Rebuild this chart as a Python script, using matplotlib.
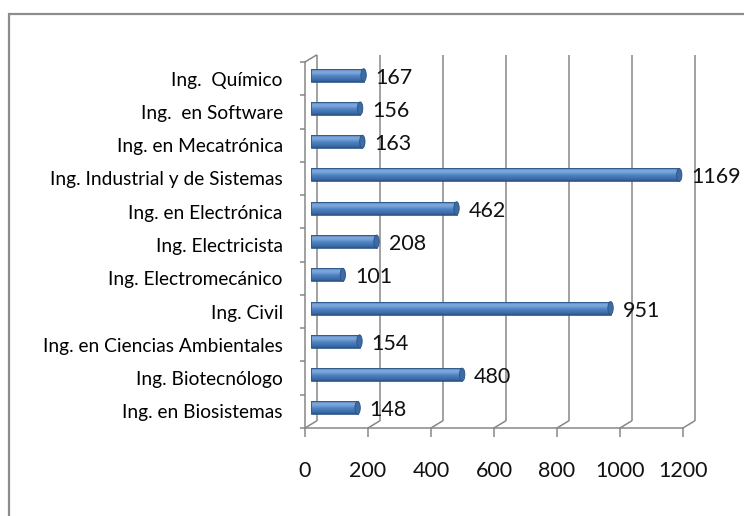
import matplotlib
matplotlib.use("Agg")
import matplotlib.pyplot as plt
import matplotlib.transforms as mtransforms
from matplotlib.patches import Rectangle, Ellipse, ConnectionPatch
from matplotlib.colors import LinearSegmentedColormap
import numpy as np

categories = [
    "Ing. en Biosistemas",
    "Ing. Biotecnólogo",
    "Ing. en Ciencias Ambientales",
    "Ing. Civil",
    "Ing. Electromecánico",
    "Ing. Electricista",
    "Ing. en Electrónica",
    "Ing. Industrial y de Sistemas",
    "Ing. en Mecatrónica",
    "Ing.  en Software",
    "Ing.  Químico",
]
values = [148, 480, 154, 951, 101, 208, 462, 1169, 163, 156, 167]
x_ticks = [0, 200, 400, 600, 800, 1000, 1200]

plt.rcParams["font.family"] = ["Lato", "DejaVu Sans"]

W, H = 744, 516
DPI = 100
fig = plt.figure(figsize=(W / DPI, H / DPI), dpi=DPI)
fig.patch.set_facecolor("white")


def px_box(x0, y0, x1, y1):
    return [x0 / W, 1 - y1 / H, (x1 - x0) / W, (y1 - y0) / H]


GRID = "#878787"

# chart frame
frame = Rectangle((9 / W, -0.5), 2.0, (1 - 14 / H) + 0.5, transform=fig.transFigure,
                  fill=False, edgecolor="#8c8c8c", linewidth=1.6)
fig.patches.append(frame)

ax = fig.add_axes(px_box(305, 62, 683, 428))
n = len(categories)
ax.set_xlim(0, 1200)
ax.set_ylim(-0.5, n - 0.5)
ax.set_facecolor("none")

# depth offsets (back wall and mid plane of the bars)
back_tr = ax.transData + mtransforms.ScaledTranslation(11.5 / DPI, 7 / DPI, fig.dpi_scale_trans)
mid_tr = ax.transData + mtransforms.ScaledTranslation(6 / DPI, 3.5 / DPI, fig.dpi_scale_trans)

# front spines & ticks
for s in ["top", "right"]:
    ax.spines[s].set_visible(False)
for s in ["left", "bottom"]:
    ax.spines[s].set_color(GRID)
    ax.spines[s].set_linewidth(1.1)

ax.set_xticks(x_ticks)
ax.set_xticklabels([str(t) for t in x_ticks])
ax.tick_params(axis="x", direction="out", length=6.5, width=1.1, color=GRID,
               labelsize=15.5, pad=17, labelcolor="#111111")

ax.set_yticks(range(n))
ax.set_yticklabels(categories)
ax.set_yticks(np.arange(-0.5, n, 1.0), minor=True)
ax.tick_params(axis="y", which="major", length=0, pad=16, labelsize=13.8, labelcolor="#000000")
ax.tick_params(axis="y", which="minor", direction="out", length=3.8, width=1.1, color=GRID)

# back wall gridlines and floor connectors
for t in x_ticks:
    ax.plot([t, t], [-0.5, n - 0.5], color=GRID, lw=1.1, transform=back_tr,
            solid_capstyle="butt", clip_on=False, zorder=1)
    cp = ConnectionPatch(xyA=(t, -0.5), coordsA=ax.transData,
                         xyB=(t, -0.5), coordsB=back_tr,
                         color=GRID, lw=1.1)
    fig.add_artist(cp)
cp = ConnectionPatch(xyA=(0, n - 0.5), coordsA=ax.transData,
                     xyB=(0, n - 0.5), coordsB=back_tr, color=GRID, lw=1.1)
fig.add_artist(cp)

# cylindrical bars
bar_cmap = LinearSegmentedColormap.from_list(
    "cyl",
    [(0.0, "#2a5282"), (0.12, "#3a69a3"), (0.45, "#4f82c2"),
     (0.72, "#7ea8dc"), (0.86, "#7aa3d8"), (1.0, "#3b6aa4")])
grad = np.linspace(0, 1, 64).reshape(-1, 1)
bh = 0.39
cap_w = 17
for i, v in enumerate(values):
    y0 = i - bh / 2
    rect = Rectangle((0, y0), v, bh, transform=mid_tr, facecolor="none",
                     edgecolor="#2d5788", linewidth=0.6, zorder=4, clip_on=False)
    ax.add_patch(rect)
    im = ax.imshow(grad, cmap=bar_cmap, origin="lower", aspect="auto",
                   extent=(0, v, y0, y0 + bh), transform=mid_tr, zorder=3,
                   interpolation="bilinear")
    im.set_clip_path(rect)
    cap = Ellipse((v, i), cap_w, bh, transform=mid_tr, facecolor="#3c6ba6",
                  edgecolor="#2a5282", linewidth=0.6, zorder=5, clip_on=False)
    ax.add_patch(cap)
    ax.text(v, i, str(v), transform=mid_tr + mtransforms.ScaledTranslation(
        12 / DPI, -2.5 / DPI, fig.dpi_scale_trans),
        ha="left", va="center", fontsize=15.5, color="#111111", zorder=6, clip_on=False)

ax.set_xlim(0, 1200)
ax.set_ylim(-0.5, n - 0.5)

fig.savefig("out.png", dpi=DPI, facecolor="white")
